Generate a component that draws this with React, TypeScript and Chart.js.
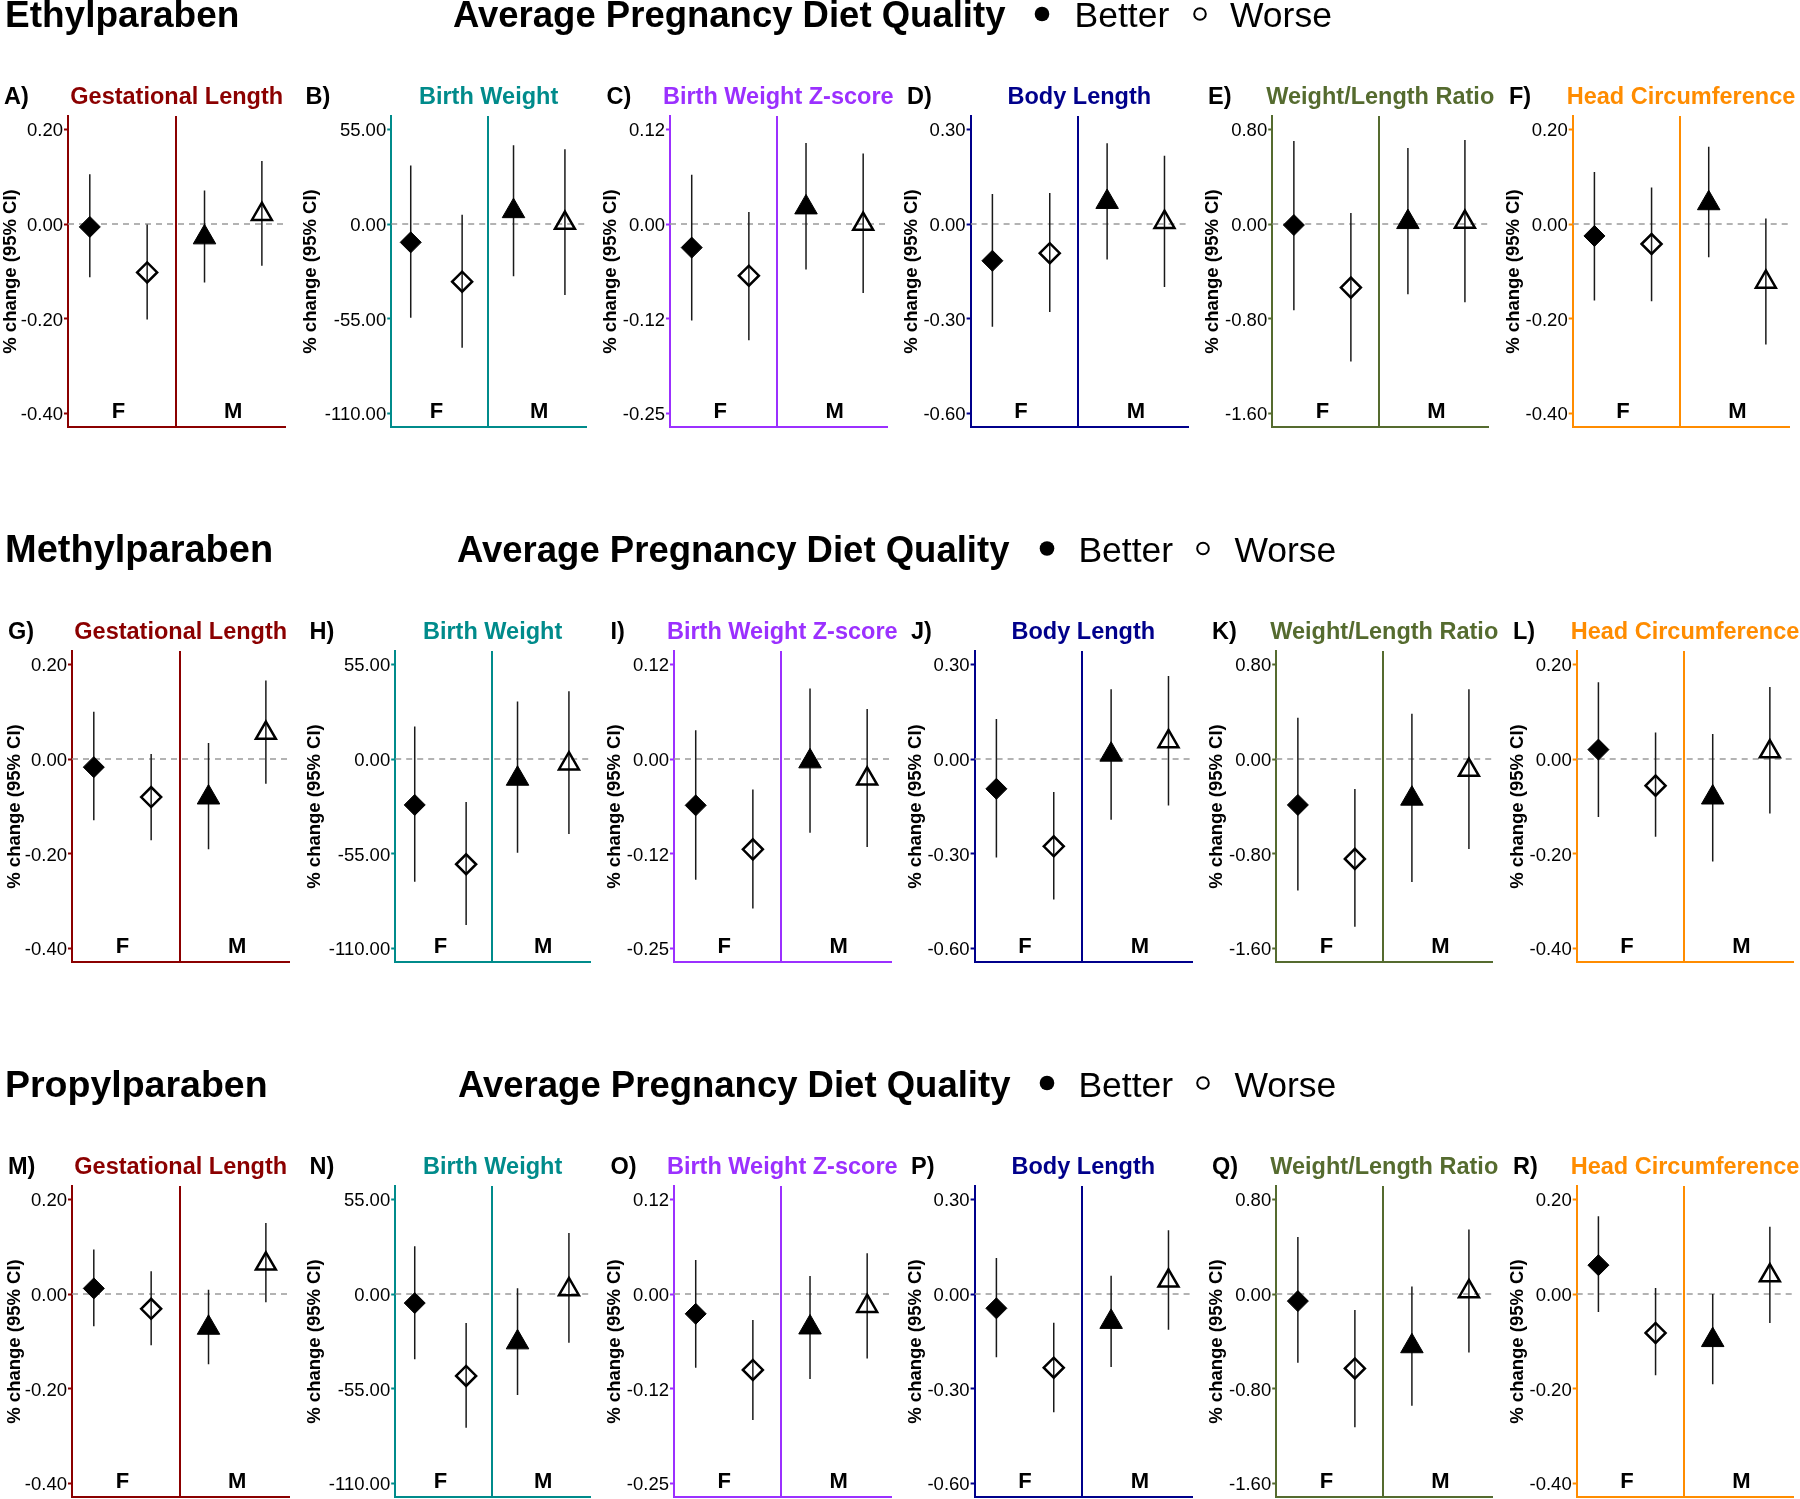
import React, { useEffect, useRef } from "react";
import { Chart, registerables } from "chart.js";

Chart.register(...registerables);

const FONT = '"Liberation Sans", Arial, Helvetica, sans-serif';

// ------------------------------------------------------------------ data
const CHEMICALS = ["Ethylparaben", "Methylparaben", "Propylparaben"];
const LEGEND_TITLE = "Average Pregnancy Diet Quality";
const DIET_GROUPS = ["Better", "Worse"];
const OUTCOMES = [
  "Gestational Length",
  "Birth Weight",
  "Birth Weight Z-score",
  "Body Length",
  "Weight/Length Ratio",
  "Head Circumference",
];
const PANEL_LETTERS = ["A", "B", "C", "D", "E", "F", "G", "H", "I", "J", "K", "L", "M", "N", "O", "P", "Q", "R"];
const SEXES = ["F", "M"];
const Y_TITLE = "% change (95% CI)";
// groups: F-better, F-worse, M-better, M-worse
const GROUP_X = [1, 2, 3, 4];
const SEX_X = [1.5, 3.5];
const DIVIDER_X = 2.5;

const TICK_VALUES = [
  [0.2, 0, -0.2, -0.4],
  [55, 0, -55, -110],
  [0.125, 0, -0.125, -0.25],
  [0.3, 0, -0.3, -0.6],
  [0.8, 0, -0.8, -1.6],
  [0.2, 0, -0.2, -0.4],
];
const TICK_LABELS = [
  ["0.20", "0.00", "-0.20", "-0.40"],
  ["55.00", "0.00", "-55.00", "-110.00"],
  ["0.12", "0.00", "-0.12", "-0.25"],
  ["0.30", "0.00", "-0.30", "-0.60"],
  ["0.80", "0.00", "-0.80", "-1.60"],
  ["0.20", "0.00", "-0.20", "-0.40"],
];

// Ethylparaben (rows: outcomes; cols: F-better, F-worse, M-better, M-worse)
const ETHYL_EST = [
  [-0.006, -0.102, -0.028, 0.021],
  [-10.6, -33.4, 7.5, 0.6],
  [-0.031, -0.068, 0.022, 0.0],
  [-0.116, -0.092, 0.07, 0.006],
  [-0.008, -0.536, 0.017, 0.017],
  [-0.025, -0.042, 0.044, -0.122],
];
const ETHYL_LO = [
  [-0.112, -0.201, -0.123, -0.088],
  [-54.4, -71.8, -30.3, -41.1],
  [-0.127, -0.153, -0.06, -0.091],
  [-0.325, -0.278, -0.112, -0.199],
  [-0.727, -1.159, -0.592, -0.66],
  [-0.161, -0.163, -0.07, -0.254],
];
const ETHYL_HI = [
  [0.105, -0.001, 0.071, 0.133],
  [34.0, 5.4, 45.7, 43.4],
  [0.065, 0.016, 0.107, 0.093],
  [0.095, 0.098, 0.256, 0.216],
  [0.702, 0.093, 0.643, 0.71],
  [0.11, 0.077, 0.163, 0.012],
];

// Methylparaben
const METHYL_EST = [
  [-0.017, -0.08, -0.081, 0.055],
  [-26.6, -61.0, -11.4, -2.7],
  [-0.061, -0.119, -0.003, -0.026],
  [-0.094, -0.276, 0.014, 0.056],
  [-0.387, -0.842, -0.334, -0.093],
  [0.02, -0.056, -0.081, 0.016],
];
const METHYL_LO = [
  [-0.129, -0.171, -0.19, -0.052],
  [-71.2, -96.3, -54.4, -43.4],
  [-0.159, -0.197, -0.097, -0.116],
  [-0.311, -0.444, -0.192, -0.147],
  [-1.109, -1.415, -1.036, -0.758],
  [-0.122, -0.164, -0.216, -0.115],
];
const METHYL_HI = [
  [0.1, 0.011, 0.034, 0.166],
  [18.9, -24.9, 33.4, 39.4],
  [0.038, -0.04, 0.093, 0.066],
  [0.127, -0.104, 0.221, 0.263],
  [0.348, -0.253, 0.382, 0.59],
  [0.162, 0.056, 0.053, 0.152],
];

// Propylparaben
const PROPYL_EST = [
  [0.012, -0.031, -0.071, 0.064],
  [-5.2, -47.5, -28.0, 2.7],
  [-0.026, -0.1, -0.044, -0.016],
  [-0.045, -0.233, -0.088, 0.042],
  [-0.059, -0.627, -0.44, 0.022],
  [0.061, -0.082, -0.097, 0.039],
];
const PROPYL_LO = [
  [-0.068, -0.108, -0.148, -0.017],
  [-37.8, -77.6, -58.5, -28.2],
  [-0.097, -0.166, -0.112, -0.085],
  [-0.2, -0.374, -0.231, -0.113],
  [-0.58, -1.123, -0.942, -0.493],
  [-0.038, -0.171, -0.19, -0.061],
];
const PROPYL_HI = [
  [0.094, 0.048, 0.009, 0.15],
  [27.8, -16.7, 3.4, 35.5],
  [0.045, -0.034, 0.024, 0.054],
  [0.114, -0.091, 0.058, 0.202],
  [0.482, -0.134, 0.064, 0.544],
  [0.164, 0.013, 0.0, 0.142],
];

const EST = [ETHYL_EST, METHYL_EST, PROPYL_EST];
const LO = [ETHYL_LO, METHYL_LO, PROPYL_LO];
const HI = [ETHYL_HI, METHYL_HI, PROPYL_HI];

// ------------------------------------------------------------------ styling / layout
const OUTCOME_COLORS = ["#8B0000", "#008B8B", "#9B30FF", "#00008B", "#556B2F", "#FF8C00"];
const X_MIN = 0.62;
const X_MAX = 4.41;
const Y_PAD = 0.14; // fraction of tick step added above/below

const COL_W = 300;
const ROW_SHIFT = [0, 4, 4];
const ROW_CHART_TOP = [116, 651, 1186];
const CHART_H = 311;
const PAD_TOP = 45;
const PAD_BOTTOM = 15;
const CANVAS_W = 312;
const CANVAS_H = PAD_TOP + CHART_H + PAD_BOTTOM;
const AXIS_LEFT = [68, 91.2, 70, 70.6, 72.2, 72.7];
const AXIS_RIGHT = [285.4, 286, 286.6, 288, 288.3, 289.3];
const LETTER_X = [4, 5.5, 6.5, 7, 8, 9];
const YTITLE_X = [10.5, 11, 11, 11.5, 12.5, 13.5];

const HEAD_BASELINE = [27, 562, 1096.5];
const CHEM_FONT_SIZE = [37, 38, 37.5];
const LEGEND_TITLE_X = [453, 457, 458];
const DOT_X = [1042, 1047, 1047];
const DOT_Y = [14, 548.5, 1083];
const BETTER_X = [1074.5, 1078.4, 1078.4];
const OPEN_X = [1200, 1203, 1203];
const WORSE_X = [1230, 1234.4, 1234.4];

const panelText = {
  id: "panelText",
  afterDraw(chart: any, _args: any, opts: any) {
    const { ctx, chartArea, scales } = chart;
    ctx.save();
    ctx.textBaseline = "alphabetic";
    ctx.font = `bold 23.5px ${FONT}`;
    ctx.fillStyle = opts.color;
    ctx.textAlign = "center";
    ctx.fillText(opts.title, (chartArea.left + chartArea.right) / 2, chartArea.top - 12.5);
    ctx.fillStyle = "#000";
    ctx.textAlign = "left";
    ctx.fillText(opts.letter + ")", opts.letterX, chartArea.top - 12);
    ctx.font = `bold 22px ${FONT}`;
    ctx.textAlign = "center";
    SEX_X.forEach((x, i) => {
      ctx.fillText(SEXES[i], scales.x.getPixelForValue(x), chartArea.bottom - 9.5);
    });
    ctx.restore();
  },
};

function Panel({ row, col }: { row: number; col: number }) {
  const ref = useRef<HTMLCanvasElement | null>(null);
  const left = col * COL_W + ROW_SHIFT[row];
  const top = ROW_CHART_TOP[row] - PAD_TOP;

  useEffect(() => {
    const canvas = ref.current;
    if (!canvas) return;
    const est = EST[row][col];
    const lo = LO[row][col];
    const hi = HI[row][col];
    const color = OUTCOME_COLORS[col];
    const step = TICK_VALUES[col][0];
    const tickVals = TICK_VALUES[col].slice().sort((a, b) => a - b);
    const yMin = tickVals[0] - Y_PAD * step;
    const yMax = tickVals[tickVals.length - 1] + Y_PAD * step;

    const markers = GROUP_X.map((x, g) => {
      const filled = g % 2 === 0;
      const diamond = g < 2;
      return {
        data: [{ x, y: est[g] }],
        showLine: false,
        pointStyle: diamond ? "rectRot" : "triangle",
        pointRadius: diamond ? (filled ? 10.5 : 10) : filled ? 13 : 11.5,
        pointBackgroundColor: filled ? "#000" : "rgba(0,0,0,0)",
        pointBorderColor: "#000",
        pointBorderWidth: filled ? 1 : 2.5,
      };
    });
    const bars = GROUP_X.map((x, g) => ({
      data: [
        { x, y: lo[g] },
        { x, y: hi[g] },
      ],
      showLine: true,
      borderColor: "#1a1a1a",
      borderWidth: 1.5,
      pointRadius: 0,
    }));
    const zeroLine = {
      data: [
        { x: X_MIN, y: 0 },
        { x: X_MAX, y: 0 },
      ],
      showLine: true,
      borderColor: "#9a9a9a",
      borderWidth: 1.5,
      borderDash: [6, 5],
      pointRadius: 0,
    };

    const chart = new Chart(canvas, {
      type: "scatter",
      data: { datasets: [...markers, ...bars, zeroLine] as any },
      plugins: [panelText as any],
      options: {
        animation: false,
        responsive: false,
        maintainAspectRatio: false,
        devicePixelRatio: 1,
        events: [],
        layout: {
          padding: { left: 0, top: PAD_TOP, right: CANVAS_W - AXIS_RIGHT[col], bottom: PAD_BOTTOM },
        },
        plugins: {
          legend: { display: false },
          tooltip: { enabled: false },
          title: { display: false },
          panelText: {
            color,
            title: OUTCOMES[col],
            letter: PANEL_LETTERS[row * 6 + col],
            letterX: LETTER_X[col],
          },
        } as any,
        scales: {
          x: {
            type: "linear",
            position: "bottom",
            min: X_MIN,
            max: X_MAX,
            afterBuildTicks: (s: any) => {
              s.ticks = [{ value: DIVIDER_X }];
            },
            afterFit: (s: any) => {
              s.height = 0;
            },
            ticks: { display: false },
            grid: { display: true, drawOnChartArea: true, drawTicks: false, color, lineWidth: 2 },
            border: { display: true, color, width: 2 },
          },
          y: {
            type: "linear",
            position: "left",
            min: yMin,
            max: yMax,
            afterBuildTicks: (s: any) => {
              s.ticks = tickVals.map((v) => ({ value: v }));
            },
            afterFit: (s: any) => {
              s.width = AXIS_LEFT[col];
            },
            ticks: {
              autoSkip: false,
              padding: 1,
              labelOffset: 1.5,
              color: "#000",
              font: { family: FONT, size: 18.5 },
              callback: (v: any) => TICK_LABELS[col][TICK_VALUES[col].indexOf(Number(v))],
            },
            grid: {
              display: true,
              drawOnChartArea: false,
              drawTicks: true,
              tickLength: 4,
              tickColor: color,
              tickWidth: 2,
            },
            border: { display: true, color, width: 2 },
            title: {
              display: true,
              text: Y_TITLE,
              color: "#000",
              font: { family: FONT, size: 18.5, weight: "bold", lineHeight: 1 },
              padding: { top: YTITLE_X[col] - 9.25, bottom: 0 },
            },
          },
        },
      } as any,
    });
    return () => chart.destroy();
  }, [row, col]);

  return (
    <canvas
      ref={ref}
      width={CANVAS_W}
      height={CANVAS_H}
      style={{ position: "absolute", left, top, width: CANVAS_W, height: CANVAS_H }}
    />
  );
}

function Headers() {
  return (
    <svg
      width={1800}
      height={1499}
      style={{ position: "absolute", left: 0, top: 0, pointerEvents: "none" }}
    >
      {CHEMICALS.map((chem, r) => (
        <g key={chem}>
          <text x={5} y={HEAD_BASELINE[r]} fontFamily={FONT} fontWeight="bold" fontSize={CHEM_FONT_SIZE[r]} fill="#000">
            {chem}
          </text>
          <text x={LEGEND_TITLE_X[r]} y={HEAD_BASELINE[r]} fontFamily={FONT} fontWeight="bold" fontSize={36.5} fill="#000">
            {LEGEND_TITLE}
          </text>
          <circle cx={DOT_X[r]} cy={DOT_Y[r]} r={7.3} fill="#000" />
          <text x={BETTER_X[r]} y={HEAD_BASELINE[r]} fontFamily={FONT} fontSize={35.5} fill="#000">
            {DIET_GROUPS[0]}
          </text>
          <circle cx={OPEN_X[r]} cy={DOT_Y[r]} r={5.8} fill="none" stroke="#000" strokeWidth={2} />
          <text x={WORSE_X[r]} y={HEAD_BASELINE[r]} fontFamily={FONT} fontSize={35.5} fill="#000">
            {DIET_GROUPS[1]}
          </text>
        </g>
      ))}
    </svg>
  );
}

export default function App() {
  const panels: React.ReactNode[] = [];
  for (let r = 0; r < 3; r++) {
    for (let c = 0; c < 6; c++) {
      panels.push(<Panel key={`${r}-${c}`} row={r} col={c} />);
    }
  }
  return (
    <div
      style={{
        position: "fixed",
        left: 0,
        top: 0,
        width: 1800,
        height: 1499,
        overflow: "hidden",
        background: "#fff",
      }}
    >
      {panels}
      <Headers />
    </div>
  );
}
